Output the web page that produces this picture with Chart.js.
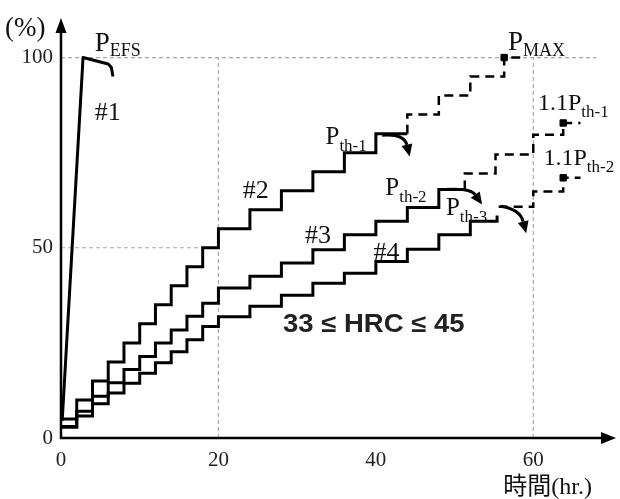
<!DOCTYPE html>
<html>
<head>
<meta charset="utf-8">
<script src="https://cdn.jsdelivr.net/npm/chart.js@4.4.1/dist/chart.umd.min.js"></script>
<style>
  body { margin: 0; background: #fff; }
  canvas { display: block; }
</style>
</head>
<body>
<canvas id="chart" width="620" height="499"></canvas>
<script>
// ---- data (hours, percent) ----
const xTicks = [0, 20, 40, 60];
const yTicks = [0, 50, 100];

// #1 : EFS curve
const efsHours = [0.15, 2.8, 6.0, 6.4, 6.6];
const efsPct = [4.5, 100, 98.3, 97.4, 95];

// solid staircases (#2, #3, #4): value held from its hour up to the next one
const curve2Hours = [0, 2, 4, 6, 8, 10, 12, 14, 16, 18, 20, 24, 28, 32, 36, 40, 44];
const curve2Pct = [5, 10, 15, 20, 25, 30, 35, 40, 45, 50, 55, 60, 65, 70, 75, 80, 80];
const curve3Hours = [0, 2, 4, 6, 8, 10, 12, 14, 16, 18, 20, 24, 28, 32, 36, 40, 44, 48, 51.3];
const curve3Pct = [3, 7, 11, 14.5, 18, 21.4, 25, 28.4, 32, 35.4, 39.4, 42.5, 46, 49.5, 53.4, 57, 60.6, 65.3, 65.3];
const curve4Hours = [0, 2, 4, 6, 8, 10, 12, 14, 16, 18, 20, 24, 28, 32, 36, 40, 44, 48, 52, 55.4];
const curve4Pct = [2.8, 5.8, 9, 11.8, 14.4, 17, 19.8, 22.7, 25.8, 29.3, 31.9, 34.6, 37.5, 40.7, 43.3, 46.4, 49.6, 53.4, 57, 58.5];

// dashed extrapolations
const ext2Hours = [44, 44, 48, 52, 56.3, 58.7];
const ext2Pct = [80, 85, 90, 95, 100, 100];
const ext3Hours = [51.3, 51.3, 55.2, 60, 63.8, 66];
const ext3Pct = [65.3, 69.5, 74.5, 79.7, 82.8, 82.8];
const ext4Hours = [55.6, 60, 63.8, 66];
const ext4Pct = [60.8, 64.8, 68.4, 68.4];

// square markers (P_MAX, 1.1P_th-1, 1.1P_th-2)
const markHours = [56.3, 63.8, 63.8];
const markPct = [100, 82.8, 68.4];

// dotted reference lines
const refLines = [
    [[0, 100], [68, 100]],
    [[0, 50], [20, 50]],
    [[20, 0], [20, 100]],
    [[60, 0], [60, 100]]
];

const serif = '"Liberation Serif", "Times New Roman", serif';

function toPoints(xs, ys) {
    return xs.map((x, i) => ({ x: x, y: ys[i] }));
}

// stepped 'before': stay at the previous value, then go up at the new hour
function stepSet(xs, ys, dashed) {
    return {
        data: toPoints(xs, ys),
        stepped: 'before',
        borderColor: '#000',
        borderWidth: dashed ? 2.5 : 3,
        borderDash: dashed ? [9, 6] : [],
        borderJoinStyle: 'miter',
        pointRadius: 0,
        fill: false
    };
}

let datasets = [
    {
        data: toPoints(efsHours, efsPct),
        borderColor: '#000',
        borderWidth: 3,
        borderJoinStyle: 'round',
        pointRadius: 0,
        fill: false
    },
    stepSet(curve2Hours, curve2Pct, false),
    stepSet(curve3Hours, curve3Pct, false),
    stepSet(curve4Hours, curve4Pct, false),
    stepSet(ext2Hours, ext2Pct, true),
    stepSet(ext3Hours, ext3Pct, true),
    stepSet(ext4Hours, ext4Pct, true),
    {
        data: toPoints(markHours, markPct),
        showLine: false,
        pointStyle: 'rect',
        pointRadius: 4.5,
        pointBackgroundColor: '#000',
        pointBorderColor: '#000'
    }
];

refLines.forEach(line => {
    datasets.push({
        data: line.map(p => ({ x: p[0], y: p[1] })),
        borderColor: '#a8a8a8',
        borderWidth: 1.2,
        borderDash: [4, 3],
        pointRadius: 0,
        order: 10
    });
});

// Text and arrow annotations drawn on top
const annotations = {
    id: 'annotations',
    afterDatasetsDraw(chart) {
        const ctx = chart.ctx;
        const xs = chart.scales.x, ys = chart.scales.y;
        const area = chart.chartArea;
        const px = v => xs.getPixelForValue(v);
        const py = v => ys.getPixelForValue(v);
        const x0 = px(0), y0 = py(0);

        ctx.save();
        ctx.fillStyle = '#000';
        ctx.strokeStyle = '#000';

        // axes with arrow heads
        ctx.lineWidth = 2.5;
        ctx.beginPath();
        ctx.moveTo(x0, y0 + 1);
        ctx.lineTo(x0, 30);
        ctx.moveTo(x0 - 1, y0);
        ctx.lineTo(603, y0);
        ctx.stroke();
        ctx.beginPath();
        ctx.moveTo(x0, 18);
        ctx.lineTo(x0 - 5.5, 33);
        ctx.lineTo(x0 + 5.5, 33);
        ctx.closePath();
        ctx.fill();
        ctx.beginPath();
        ctx.moveTo(616, y0);
        ctx.lineTo(601, y0 - 6);
        ctx.lineTo(601, y0 + 6);
        ctx.closePath();
        ctx.fill();

        // curved arrows after each P_th
        const arrows = [
            [[40.8, 79.6], [43.6, 80.0], [44.3, 74.0]],
            [[48.8, 65.3], [52.0, 65.8], [53.5, 61.4]],
            [[55.8, 60.9], [58.3, 60.2], [59.1, 53.8]]
        ];
        ctx.lineWidth = 3;
        arrows.forEach(a => {
            const s = [px(a[0][0]), py(a[0][1])];
            const c = [px(a[1][0]), py(a[1][1])];
            const e = [px(a[2][0]), py(a[2][1])];
            const ang = Math.atan2(e[1] - c[1], e[0] - c[0]);
            const hl = 12, hw = 5.5;
            const bx = e[0] - hl * Math.cos(ang), by = e[1] - hl * Math.sin(ang);
            ctx.beginPath();
            ctx.moveTo(s[0], s[1]);
            ctx.quadraticCurveTo(c[0], c[1], bx, by);
            ctx.stroke();
            ctx.beginPath();
            ctx.moveTo(e[0], e[1]);
            ctx.lineTo(bx + hw * Math.sin(ang), by - hw * Math.cos(ang));
            ctx.lineTo(bx - hw * Math.sin(ang), by + hw * Math.cos(ang));
            ctx.closePath();
            ctx.fill();
        });

        // labels with subscripts
        const labels = [
            [[4.3, 101.6], [['P', 27], ['EFS', 18, 5]]],
            [[4.3, 83.6], [['#1', 26]]],
            [[23.1, 63.1], [['#2', 26]]],
            [[31.0, 51.2], [['#3', 26]]],
            [[39.7, 46.8], [['#4', 26]]],
            [[33.6, 77.3], [['P', 25], ['th-1', 17, 7]]],
            [[41.2, 63.9], [['P', 25], ['th-2', 17, 7]]],
            [[48.9, 58.6], [['P', 25], ['th-3', 17, 7]]],
            [[56.8, 102.0], [['P', 27], ['MAX', 18, 6]]],
            [[60.6, 86.2], [['1.1P', 24], ['th-1', 17, 7]]],
            [[61.3, 71.7], [['1.1P', 24], ['th-2', 17, 7]]]
        ];
        ctx.fillStyle = '#111';
        ctx.textBaseline = 'alphabetic';
        ctx.textAlign = 'left';
        labels.forEach(l => {
            let x = px(l[0][0]);
            const y = py(l[0][1]);
            l[1].forEach(part => {
                ctx.font = part[1] + 'px ' + serif;
                ctx.fillText(part[0], x, y + (part[2] || 0));
                x += ctx.measureText(part[0]).width;
            });
        });

        // condition note, slightly widened like the original
        ctx.save();
        ctx.translate(px(28.2), py(27.9));
        ctx.scale(1.1, 1);
        ctx.font = 'bold 25px "Liberation Sans", Arial, sans-serif';
        ctx.fillStyle = '#222';
        ctx.fillText('33 \u2264 HRC \u2264 45', 0, 0);
        ctx.restore();

        // axis titles
        ctx.fillStyle = '#111';
        ctx.font = '27px ' + serif;
        ctx.fillText('(%)', area.left - 56, 36);
        let tx = px(56.2);
        ctx.font = '24px "Noto Sans CJK JP", sans-serif';
        ctx.fillText('時間', tx, area.bottom + 56);
        tx += ctx.measureText('時間').width;
        ctx.font = '24px ' + serif;
        ctx.fillText('(hr.)', tx, area.bottom + 56);

        ctx.restore();
    }
};

new Chart(document.getElementById('chart'), {
    type: 'line',
    data: { datasets: datasets },
    options: {
        responsive: false,
        devicePixelRatio: 1,
        animation: false,
        layout: { padding: { top: 19.5, right: 8, left: 0, bottom: 0 } },
        plugins: {
            legend: { display: false },
            tooltip: { enabled: false }
        },
        scales: {
            x: {
                type: 'linear',
                min: 0,
                max: 70,
                grid: { display: false },
                border: { display: false },
                afterBuildTicks: scale => { scale.ticks = xTicks.map(v => ({ value: v })); },
                afterFit: scale => { scale.height = 61; },
                ticks: {
                    padding: 2,
                    color: '#222',
                    font: { family: serif, size: 21 },
                    maxRotation: 0
                }
            },
            y: {
                type: 'linear',
                min: 0,
                max: 110,
                grid: { display: false },
                border: { display: false },
                afterBuildTicks: scale => { scale.ticks = yTicks.map(v => ({ value: v })); },
                afterFit: scale => { scale.width = 61; },
                ticks: {
                    padding: 0,
                    color: '#222',
                    font: { family: serif, size: 21 }
                }
            }
        }
    },
    plugins: [annotations]
});
</script>
</body>
</html>
